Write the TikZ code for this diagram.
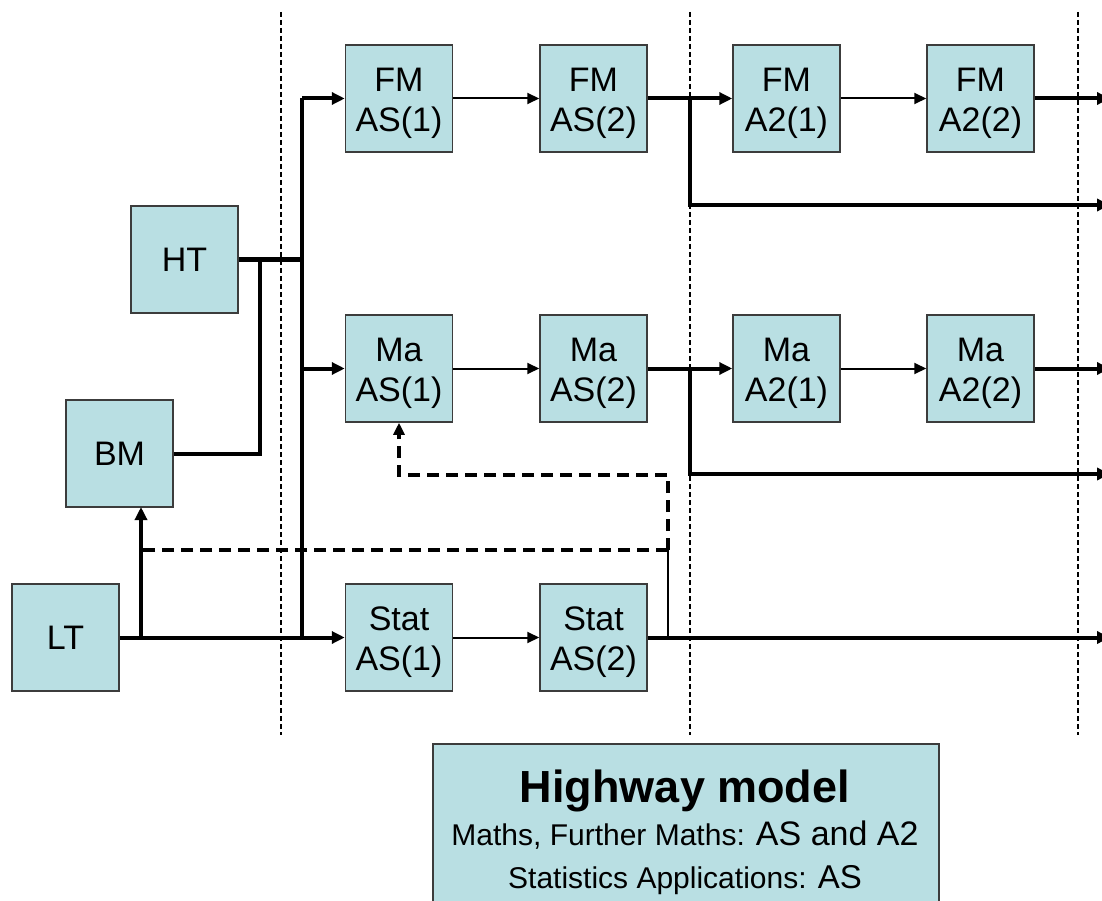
\documentclass[tikz,border=0pt]{standalone}
\usepackage{fontspec}
\setmainfont{Liberation Sans}
\usetikzlibrary{arrows.meta}
\definecolor{boxfill}{RGB}{185,223,227}
\definecolor{boxline}{RGB}{60,60,60}
\newcommand{\twoline}[2]{\rule{0pt}{34pt}#1\\#2}
\begin{document}
\begin{tikzpicture}[x=1pt,y=-1pt,
  box/.style={draw=boxline, line width=1.5pt, fill=boxfill, minimum width=107pt,
    minimum height=107pt, inner sep=0pt, align=center,
    font=\fontsize{34}{40}\selectfont},
  thickline/.style={line width=4pt},
  thinline/.style={line width=2pt},
  tip/.style={-{Triangle[length=13pt,width=12pt]}},
  smalltip/.style={-{Triangle[length=12pt,width=11pt]}},
  dashedline/.style={line width=3.5pt, dash pattern=on 12pt off 7pt},
  divider/.style={line width=1.5pt, dash pattern=on 5pt off 3pt},
  subtext/.style={anchor=base, inner sep=0pt}
]
\useasboundingbox (0,0) rectangle (1102,901);
\clip (0,0) rectangle (1102,901);

% dividers
\coordinate (d1t) at (281,12);  \coordinate (d1b) at (281,735);
\coordinate (d2t) at (690,12);  \coordinate (d2b) at (690,735);
\coordinate (d3t) at (1078,12); \coordinate (d3b) at (1078,735);
\draw[divider] (d1t) -- (d1b);
\draw[divider] (d2t) -- (d2b);
\draw[divider] (d3t) -- (d3b);

% boxes
\node[box] (fmas1) at (399,98.5) {\twoline{FM}{AS(1)}};
\node[box] (fmas2) at (593.5,98.5) {\twoline{FM}{AS(2)}};
\node[box] (fma21) at (786.5,98.5) {\twoline{FM}{A2(1)}};
\node[box] (fma22) at (980.5,98.5) {\twoline{FM}{A2(2)}};
\node[box] (maas1) at (399,368.5) {\twoline{Ma}{AS(1)}};
\node[box] (maas2) at (593.5,368.5) {\twoline{Ma}{AS(2)}};
\node[box] (maa21) at (786.5,368.5) {\twoline{Ma}{A2(1)}};
\node[box] (maa22) at (980.5,368.5) {\twoline{Ma}{A2(2)}};
\node[box] (stas1) at (399,637.5) {\twoline{Stat}{AS(1)}};
\node[box] (stas2) at (593.5,637.5) {\twoline{Stat}{AS(2)}};
\node[box] (ht) at (184.5,259.5) {HT};
\node[box] (bm) at (119.5,453.5) {BM};
\node[box] (lt) at (65.5,637.5) {LT};

% coordinates
\coordinate (trTop) at (302,98.5);
\coordinate (trMa) at (302,368.5);
\coordinate (trBot) at (302,637.5);
\coordinate (htJ) at (302,259.5);
\coordinate (bmUp) at (260,259.5);
\coordinate (ltJ) at (141,637.5);
\coordinate (bmIn) at (141,507);
\coordinate (jFM) at (690,98.5);
\coordinate (jMa) at (690,368.5);
\coordinate (outFM) at (1110,98.5);
\coordinate (outFMb) at (1110,205);
\coordinate (outMa) at (1110,368.5);
\coordinate (outMab) at (1110,474);
\coordinate (outSt) at (1110,637.5);
\coordinate (stJ) at (668,637.5);
\coordinate (stUp) at (668,538);
\coordinate (dashA) at (668,550);
\coordinate (dashB) at (141,550);
\coordinate (dashC) at (668,475);
\coordinate (dashD) at (399,475);

% left feeders
\draw[thickline] (ht.east) -- (htJ);
\draw[thickline] (bm.east) -| (bmUp);
\draw[thickline] (trTop) -- (trBot);
\draw[thickline,tip] (lt.east) -- (stas1.west);
\draw[thickline,tip] (ltJ) -- (bmIn);
\draw[thickline,tip] (trTop) -- (fmas1.west);
\draw[thickline,tip] (trMa) -- (maas1.west);

% FM row
\draw[thinline,smalltip] (fmas1) -- (fmas2);
\draw[thickline,tip] (fmas2.east) -- (fma21.west);
\draw[thinline,smalltip] (fma21) -- (fma22);
\draw[thickline,tip] (fma22.east) -- (outFM);
\draw[thickline,tip] (jFM) |- (outFMb);

% Ma row
\draw[thinline,smalltip] (maas1) -- (maas2);
\draw[thickline,tip] (maas2.east) -- (maa21.west);
\draw[thinline,smalltip] (maa21) -- (maa22);
\draw[thickline,tip] (maa22.east) -- (outMa);
\draw[thickline,tip] (jMa) |- (outMab);

% Stat row
\draw[thinline,smalltip] (stas1) -- (stas2);
\draw[thickline,tip] (stas2.east) -- (outSt);
\draw[thinline] (stJ) -- (stUp);
\draw[dashedline] (dashA) -- (dashB);
\draw[dashedline,smalltip] (dashA) -- (dashC) -- (dashD) -- (maas1.south);

% title box
\node[draw=boxline, fill=boxfill, line width=1.5pt, minimum width=506pt,
  minimum height=200pt, inner sep=0pt, anchor=north west] (titlebox) at (432,743) {};
\node[subtext, font=\fontsize{45}{50}\selectfont\bfseries] (title) at (685,802) {Highway model};
\node[subtext] (sub1) at (685,845) {{\fontsize{30}{36}\selectfont Maths, Further Maths: }{\fontsize{34}{40}\selectfont AS and A2}};
\node[subtext] (sub2) at (685,888) {{\fontsize{30}{36}\selectfont Statistics Applications: }{\fontsize{33}{40}\selectfont AS}};
\end{tikzpicture}
\end{document}
